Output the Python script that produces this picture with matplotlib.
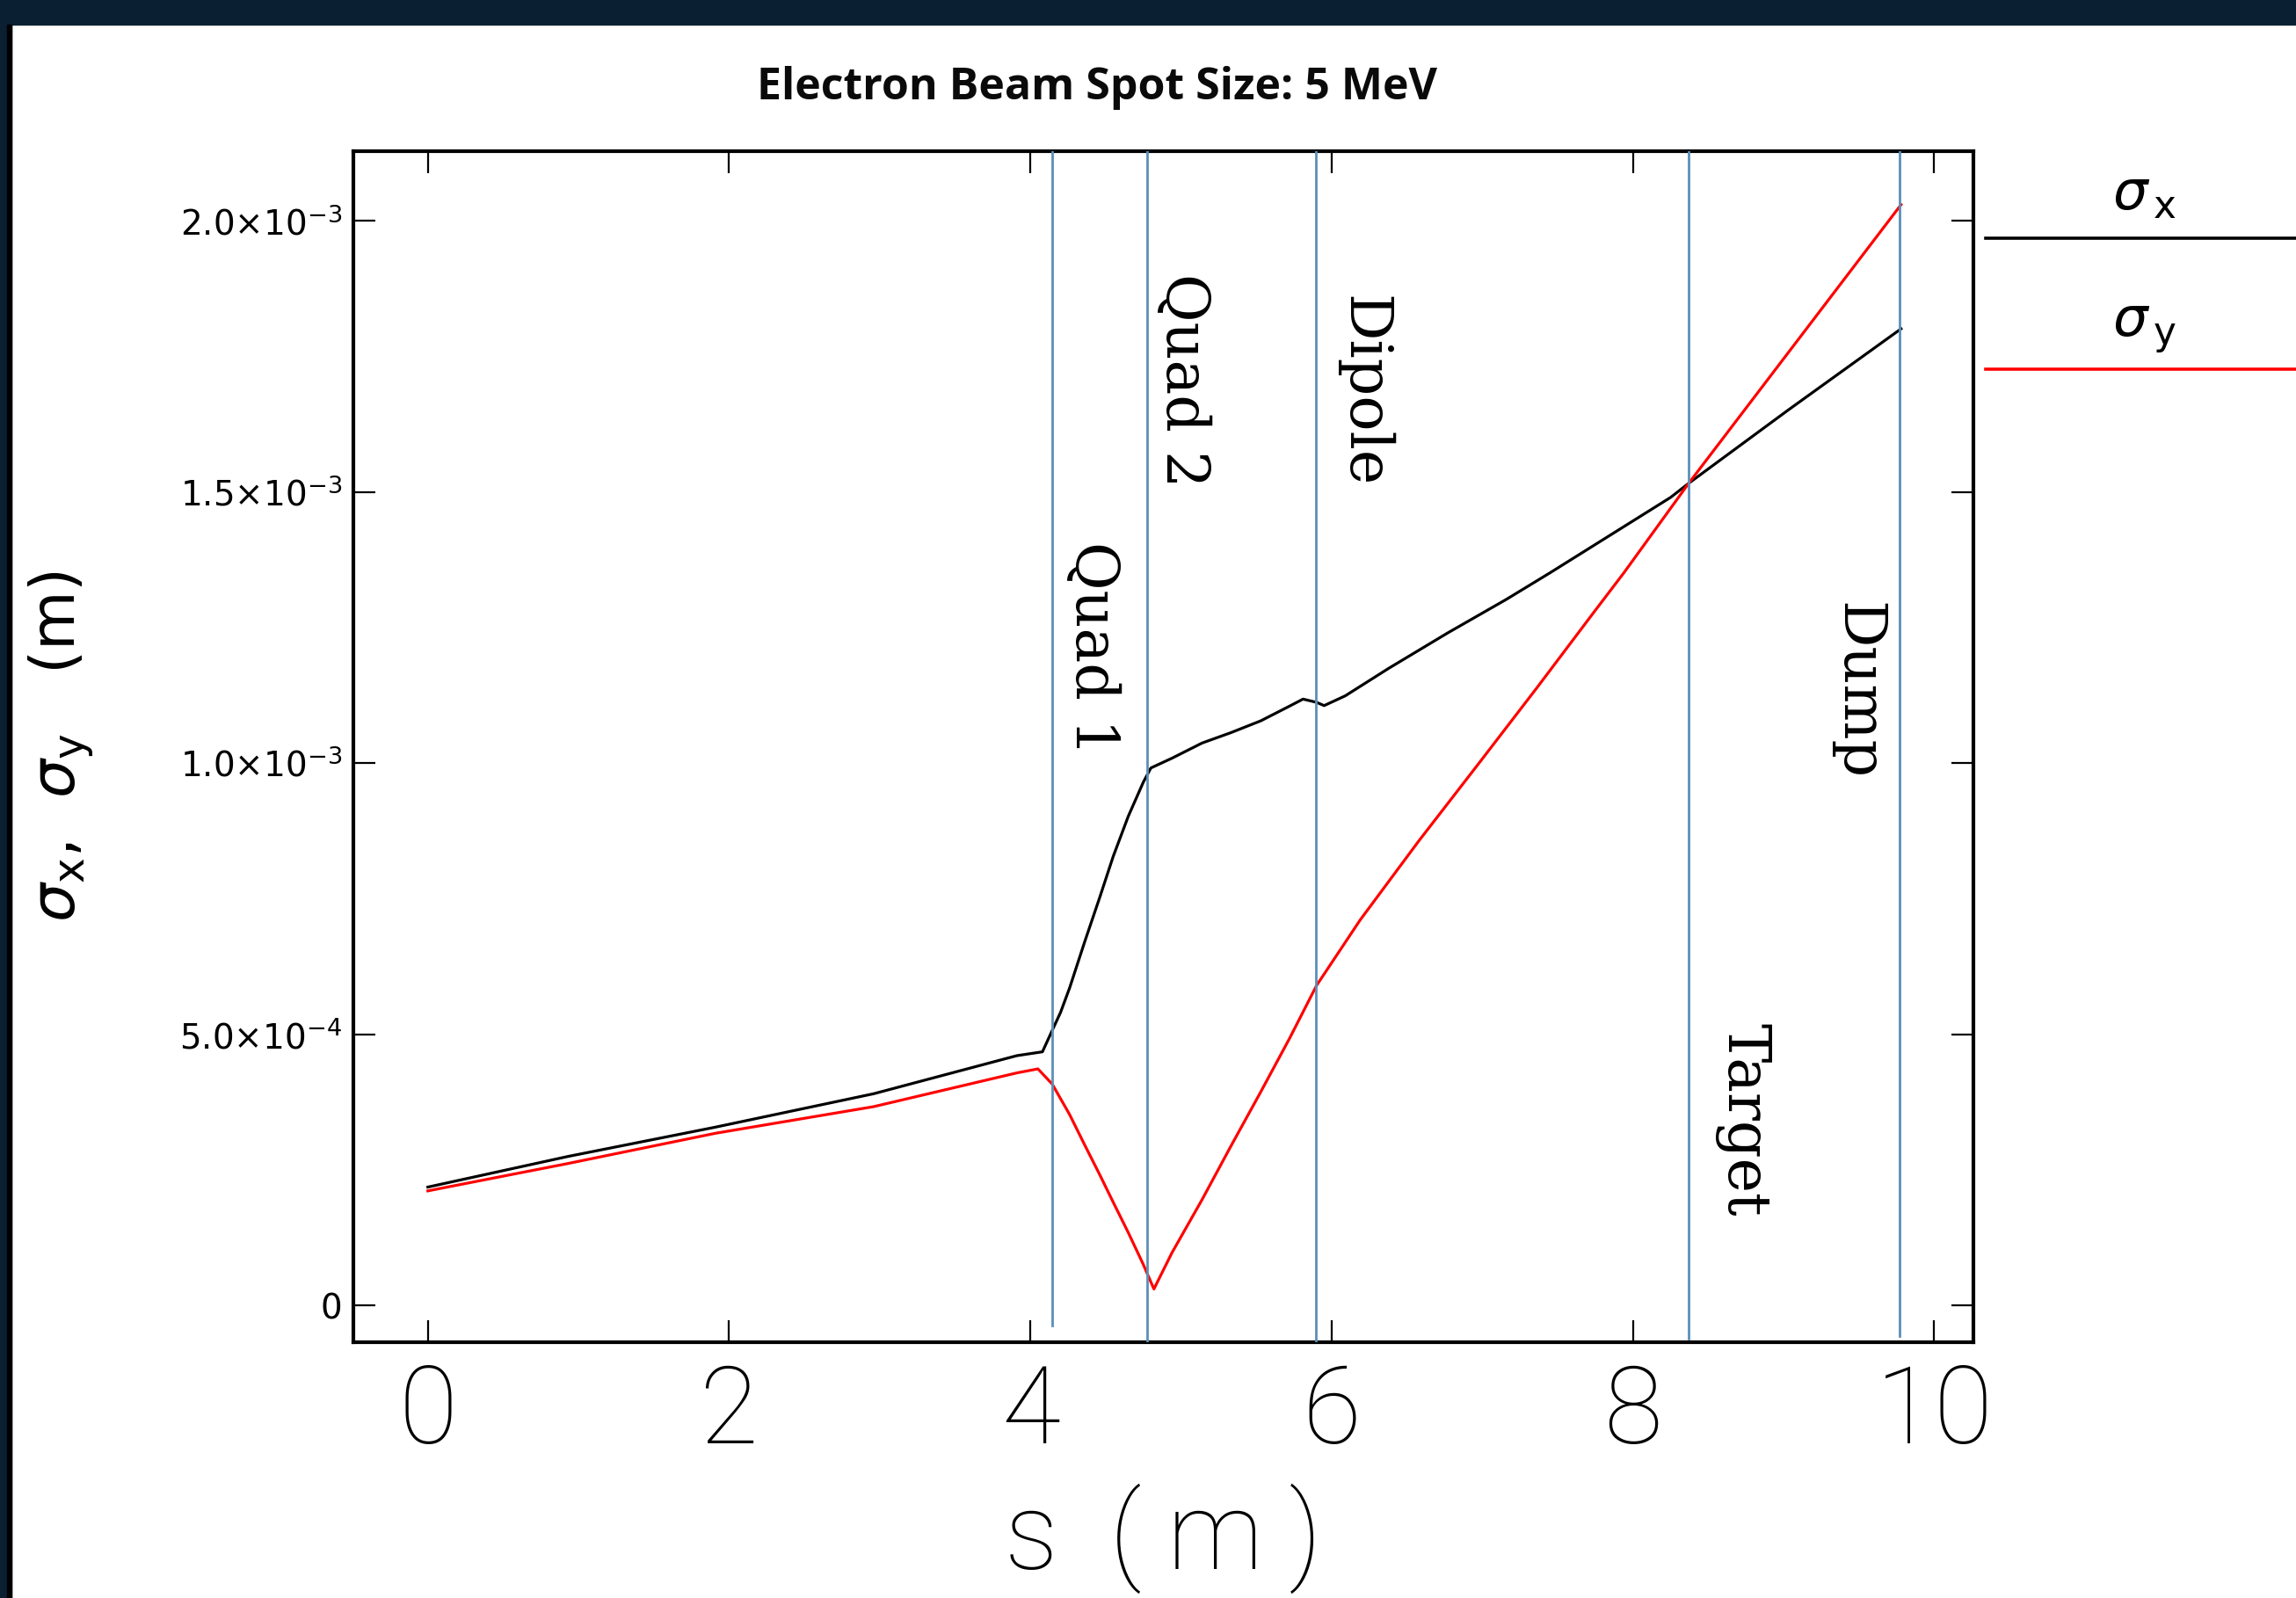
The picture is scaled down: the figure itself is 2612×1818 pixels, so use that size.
import numpy as np
import matplotlib.pyplot as plt
import matplotlib
from matplotlib.lines import Line2D
from matplotlib.patches import Rectangle
matplotlib.rcParams['mathtext.fontset'] = 'dejavusans'

# beam envelope: s in m, sigma in units of 1e-3 m
s_x = [0.0, 0.93, 1.91, 2.96, 3.91, 4.08, 4.145, 4.20, 4.26, 4.36, 4.46, 4.55, 4.65, 4.75,
       4.80, 4.94, 5.14, 5.33, 5.53, 5.72, 5.81, 5.90, 5.95, 6.09, 6.38, 6.77, 7.16, 7.45,
       8.25, 8.37, 9.03, 9.78]
sig_x = [0.218, 0.2745, 0.3286, 0.3902, 0.4604, 0.4675, 0.507, 0.540, 0.585, 0.670, 0.752,
         0.828, 0.902, 0.965, 0.991, 1.009, 1.037, 1.056, 1.078, 1.105, 1.118, 1.112, 1.106,
         1.124, 1.175, 1.240, 1.302, 1.351, 1.490, 1.516, 1.651, 1.801]

s_y = [0.0, 0.93, 1.91, 2.96, 3.91, 4.05, 4.145, 4.26, 4.36, 4.46, 4.55, 4.65, 4.75, 4.82,
       4.94, 5.14, 5.33, 5.53, 5.72, 5.90, 6.19, 6.58, 6.97, 7.36, 7.74, 7.94, 8.37, 9.78]
sig_y = [0.211, 0.2615, 0.3173, 0.3664, 0.4286, 0.436, 0.408, 0.352, 0.296, 0.241, 0.190,
         0.134, 0.075, 0.030, 0.097, 0.195, 0.293, 0.394, 0.492, 0.590, 0.711, 0.857, 0.997,
         1.138, 1.278, 1.351, 1.516, 2.030]

elements = ['Quad 1', 'Quad 2', 'Dipole', 'Target', 'Dump']
elem_s = [4.145, 4.773, 5.896, 8.371, 9.770]

xticks = [0, 2, 4, 6, 8, 10]
yticks = [0, 0.5e-3, 1.0e-3, 1.5e-3, 2.0e-3]
ytick_labels = ['0', r'$5.0{\times}10^{-4}$', r'$1.0{\times}10^{-3}$',
                r'$1.5{\times}10^{-3}$', r'$2.0{\times}10^{-3}$']

W, H = 2612, 1818
fig = plt.figure(figsize=(W / 100, H / 100), dpi=100)
fig.patch.set_facecolor('white')
ax = fig.add_axes([401.7 / W, 1 - 1526.7 / H, (2245 - 401.7) / W, (1526.7 - 171.7) / H])

ax.plot(s_x, np.array(sig_x) * 1e-3, color='black', lw=2.3, zorder=3)
ax.plot(s_y, np.array(sig_y) * 1e-3, color='red', lw=2.3, zorder=3)

vcol = '#5b8fb9'
ymins = [0.014, 0.0, 0.0, 0.003, 0.005]
for s, ym in zip(elem_s, ymins):
    ax.axvline(s, ymin=ym, ymax=1, color=vcol, lw=2.0, zorder=4)

# element labels (rotated, read top to bottom)
lab_pos = [(4.41, 1.211e-3), (5.01, 1.706e-3), (6.21, 1.686e-3), (8.73, 0.342e-3), (9.49, 1.133e-3)]
for name, (lx, ly) in zip(elements, lab_pos):
    ax.text(lx, ly, name, rotation=-90, ha='center', va='center', family='DejaVu Serif',
            fontsize=48, color='black', zorder=5)

thin = dict(family=['Roboto', 'DejaVu Sans'], fontweight='light')
ax.set_xlim(-0.496, 10.26)
ax.set_ylim(-0.0676e-3, 2.129e-3)
ax.set_xticks(xticks)
ax.set_xticklabels([str(t) for t in xticks], fontsize=88, **thin)
ax.set_yticks(yticks)
ax.set_yticklabels(ytick_labels, fontsize=28)
ax.tick_params(direction='in', length=18, width=1.6, top=True, right=True, color='black')
ax.tick_params(axis='x', pad=17)
ax.tick_params(axis='y', pad=9)
for sp in ax.spines.values():
    sp.set_linewidth(3.0)

ax.set_xlabel('s  ( m )', fontsize=88, va='center', **thin)
ax.xaxis.set_label_coords(0.5, -0.165)
ax.set_ylabel(r'$\sigma_{\mathrm{x}}$,  $\sigma_{\mathrm{y}}$   (m)', fontsize=50,
              va='center', ha='center')
ax.yaxis.set_label_coords(-0.18, 0.5)

fig.text(1248 / W, 1 - 100 / H, 'Electron Beam Spot Size: 5 MeV', family='Open Sans',
         fontweight='bold', fontsize=36, ha='center', va='center', color='#0a0a0a')

# legend outside on the right: label above its line
fig.add_artist(Line2D([2259 / W, 1.0], [1 - 270.7 / H] * 2, color='black', lw=2.6,
                      transform=fig.transFigure))
fig.add_artist(Line2D([2259 / W, 1.0], [1 - 420 / H] * 2, color='red', lw=2.6,
                      transform=fig.transFigure))
fig.text(2440 / W, 1 - 222 / H, r'$\sigma_{\,\mathrm{x}}$', fontsize=45, ha='center', va='center')
fig.text(2440 / W, 1 - 374 / H, r'$\sigma_{\,\mathrm{y}}$', fontsize=45, ha='center', va='center')

# dark frame at top and left
fig.add_artist(Rectangle((0, 1 - 28 / H), 1, 28 / H, transform=fig.transFigure,
                         color='#0a2032', zorder=10))
fig.add_artist(Rectangle((0, 0), 13 / W, 1, transform=fig.transFigure,
                         color='#0a2032', zorder=10))
fig.add_artist(Rectangle((8 / W, 0), 5 / W, 1 - 28 / H, transform=fig.transFigure,
                         color='black', zorder=11))

fig.savefig('out.png', dpi=100)
